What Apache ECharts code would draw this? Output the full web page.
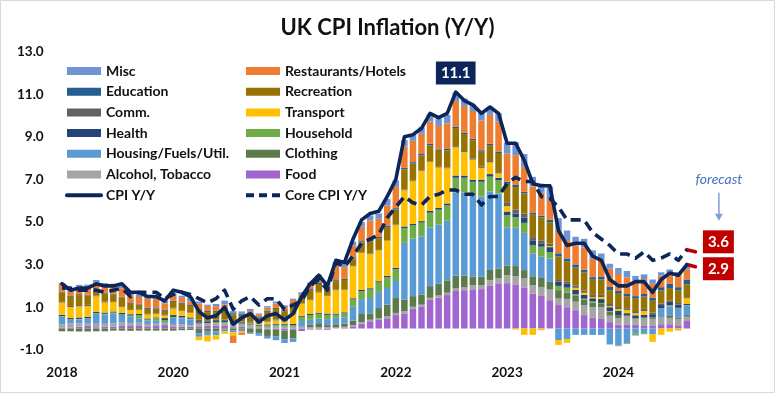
<!DOCTYPE html>
<html><head><meta charset="utf-8">
<script src="https://cdn.jsdelivr.net/npm/echarts@6/dist/echarts.min.js"></script>
<style>html,body{margin:0;padding:0;background:#fff}#c{width:775px;height:393px}</style>
</head><body><div id="c"></div>
<script>
const categories = ["Dec-18","Jan-19","Feb-19","Mar-19","Apr-19","May-19","Jun-19","Jul-19","Aug-19","Sep-19","Oct-19","Nov-19","Dec-19",
"Jan-20","Feb-20","Mar-20","Apr-20","May-20","Jun-20","Jul-20","Aug-20","Sep-20","Oct-20","Nov-20","Dec-20",
"Jan-21","Feb-21","Mar-21","Apr-21","May-21","Jun-21","Jul-21","Aug-21","Sep-21","Oct-21","Nov-21","Dec-21",
"Jan-22","Feb-22","Mar-22","Apr-22","May-22","Jun-22","Jul-22","Aug-22","Sep-22","Oct-22","Nov-22","Dec-22",
"Jan-23","Feb-23","Mar-23","Apr-23","May-23","Jun-23","Jul-23","Aug-23","Sep-23","Oct-23","Nov-23","Dec-23",
"Jan-24","Feb-24","Mar-24","Apr-24","May-24","Jun-24","Jul-24","Aug-24","Sep-24","Oct-24","Nov-24","Dec-24",
"Jan-25","Feb-25"];
const tickLabels = ["2018","2020","2021","2022","2023","2024"];
const tickEvery = 13;

const food = [0.03,0.05,0.09,0.12,0.06,0.09,0.09,0.12,0.12,0.15,0.10,0.15,0.16,
 0.10,0.08,0.09,0.10,0.12,0.13,0.12,0.06,0.08,0.04,0.00,-0.05,
 -0.06,-0.10,-0.05,-0.12,-0.05,-0.05,-0.06,0.00,0.03,0.10,0.23,0.34,
 0.40,0.48,0.63,0.71,0.92,1.02,1.34,1.45,1.57,1.76,1.80,1.84,
 1.85,2.00,2.12,2.13,2.07,1.93,1.64,1.53,1.33,1.10,1.00,0.86,
 0.63,0.50,0.45,0.30,0.18,0.17,0.17,0.12,0.15,0.20,0.20,0.15,
 0.35];
const alcohol = [0.17,0.19,0.15,0.14,0.16,0.13,0.16,0.16,0.14,0.12,0.11,0.08,0.09,
 0.11,0.12,0.06,0.10,0.10,0.12,0.12,0.10,0.10,0.10,0.08,0.08,
 0.10,0.08,0.08,0.08,0.07,0.05,0.06,0.05,0.05,0.05,0.06,0.07,
 0.08,0.09,0.10,0.10,0.10,0.10,0.10,0.10,0.11,0.12,0.13,0.20,
 0.19,0.28,0.23,0.38,0.39,0.42,0.39,0.42,0.50,0.31,0.39,0.40,
 0.47,0.50,0.55,0.30,0.30,0.40,0.30,0.35,0.30,0.30,0.30,0.30,
 0.20];
const clothing = [-0.13,-0.13,-0.14,-0.14,-0.13,-0.13,-0.10,-0.10,-0.11,-0.10,-0.10,-0.10,-0.10,
 -0.10,-0.08,-0.07,-0.22,-0.15,-0.14,-0.05,-0.10,-0.06,-0.20,-0.22,-0.30,
 -0.32,-0.40,-0.42,0.02,0.12,0.20,0.10,0.15,0.15,0.22,0.39,0.30,
 0.48,0.55,0.70,0.55,0.50,0.48,0.55,0.55,0.58,0.60,0.55,0.39,
 0.39,0.47,0.47,0.44,0.47,0.39,0.39,0.42,0.36,0.39,0.30,0.30,
 0.25,0.22,0.15,0.20,0.15,0.05,0.00,0.05,0.05,0.02,0.12,0.05,
 0.08];
const housing = [0.36,0.17,0.19,0.19,0.47,0.44,0.44,0.36,0.31,0.19,0.16,0.13,0.05,
 0.30,0.28,0.28,-0.17,-0.18,-0.18,-0.08,-0.08,-0.08,-0.05,-0.12,-0.12,
 -0.17,-0.18,-0.16,0.25,0.22,0.22,0.28,0.30,0.30,0.65,0.70,0.72,
 0.75,0.78,0.80,2.66,2.70,2.72,2.75,2.78,2.80,3.90,3.90,3.83,
 3.76,3.68,3.52,1.80,1.80,1.75,1.10,1.00,1.10,-0.54,-0.50,-0.30,
 -0.30,-0.30,-0.30,-0.75,-0.80,-0.70,-0.25,-0.22,-0.28,0.40,0.42,0.42,
 0.44];
const household = [0.02,0.02,0.02,0.03,0.03,0.03,0.06,0.02,0.04,0.17,0.05,0.12,0.10,
 0.03,0.04,0.03,0.04,0.04,0.05,0.06,0.04,0.05,0.05,0.05,0.06,
 0.08,0.10,0.08,0.20,0.22,0.22,0.20,0.15,0.18,0.35,0.38,0.40,
 0.45,0.50,0.55,0.70,0.62,0.65,0.70,0.70,0.72,0.70,0.70,0.63,
 0.70,0.70,0.62,0.58,0.50,0.47,0.39,0.47,0.30,0.20,0.23,0.05,
 0.05,0.05,0.05,0.02,-0.03,-0.03,-0.08,-0.05,0.02,0.03,0.05,0.05,
 0.03];
const health = [0.06,0.06,0.07,0.07,0.07,0.06,0.05,0.07,0.06,0.05,0.05,0.04,0.09,
 0.09,0.08,0.06,0.05,0.05,0.05,0.05,0.05,0.05,0.05,0.05,0.05,
 0.05,0.05,0.05,0.05,0.05,0.05,0.06,0.05,0.05,0.05,0.05,0.06,
 0.06,0.07,0.07,0.07,0.07,0.07,0.08,0.08,0.09,0.10,0.10,0.10,
 0.10,0.12,0.12,0.16,0.17,0.25,0.23,0.16,0.23,0.20,0.20,0.20,
 0.18,0.15,0.18,0.18,0.20,0.10,0.15,0.12,0.15,0.15,0.15,0.15,
 0.05];
const transport = [0.58,0.52,0.52,0.50,0.72,0.47,0.44,0.27,0.20,0.19,0.19,0.16,0.12,
 0.31,0.22,0.22,-0.16,-0.28,-0.20,-0.12,-0.15,-0.06,0.03,0.05,0.12,
 0.15,0.10,0.45,0.56,0.65,0.95,0.82,1.10,1.05,1.50,1.75,1.60,
 1.45,1.65,2.00,1.70,2.00,2.35,2.30,1.90,1.65,1.33,1.10,0.94,
 0.55,0.55,0.20,0.25,-0.05,-0.30,-0.30,-0.08,0.05,-0.23,-0.17,0.10,
 0.10,0.05,0.10,0.05,0.08,0.15,0.10,0.18,-0.35,-0.30,-0.15,-0.10,
 0.27];
const comm = [0.03,0.05,0.06,0.06,0.04,0.04,0.04,0.04,0.04,0.03,0.03,0.03,0.03,
 0.03,0.03,0.03,0.12,0.08,0.07,0.07,0.06,0.06,0.04,0.03,0.03,
 0.04,0.03,0.03,0.02,0.02,0.03,0.02,0.02,0.02,0.02,0.03,0.03,
 0.02,0.02,0.03,0.03,0.03,0.03,0.03,0.03,0.04,0.05,0.05,0.06,
 0.06,0.06,0.06,0.19,0.19,0.19,0.15,0.12,0.12,0.08,0.08,0.10,
 0.10,0.10,0.10,0.10,0.10,0.08,0.10,0.10,0.08,0.08,0.08,0.08,
 0.05];
const recreation = [0.44,0.43,0.47,0.44,0.22,0.39,0.31,0.42,0.24,0.23,0.23,0.23,0.19,
 0.28,0.31,0.28,0.45,0.38,0.36,0.50,0.35,0.30,0.35,0.25,0.44,
 0.50,0.45,0.45,0.22,0.45,0.37,0.28,0.40,0.45,0.30,0.45,0.58,
 0.55,0.62,0.70,0.95,0.80,0.70,0.75,0.75,0.80,0.85,0.80,0.85,
 0.70,0.75,0.90,0.86,1.05,0.94,1.05,1.10,1.00,1.10,0.94,0.85,
 0.85,0.72,0.72,0.65,0.62,0.55,0.58,0.58,0.55,0.60,0.58,0.58,
 0.60];
const education = [0.04,0.04,0.04,0.04,0.04,0.04,0.04,0.04,0.04,0.04,0.05,0.05,0.05,
 0.05,0.05,0.05,0.05,0.05,0.05,0.06,0.06,0.06,0.06,0.06,0.06,
 0.05,0.05,0.05,0.05,0.05,0.05,0.05,0.05,0.05,0.06,0.06,0.06,
 0.06,0.07,0.07,0.07,0.07,0.07,0.07,0.07,0.07,0.07,0.07,0.07,
 0.07,0.07,0.07,0.10,0.10,0.08,0.08,0.08,0.12,0.15,0.15,0.15,
 0.13,0.12,0.12,0.15,0.13,0.12,0.12,0.12,0.15,0.16,0.20,0.16,
 0.23];
const restaurants = [0.36,0.19,0.36,0.38,0.36,0.34,0.38,0.39,0.37,0.31,0.42,0.39,0.30,
 0.23,0.23,0.16,0.26,0.24,0.22,0.15,-0.35,-0.10,0.10,0.10,0.14,
 0.20,0.15,0.15,0.15,0.20,0.20,0.12,0.70,0.55,0.60,0.68,0.90,
 0.85,0.95,1.00,1.00,1.00,0.95,1.05,1.10,1.20,1.20,1.25,1.30,
 1.40,1.35,1.40,1.33,1.40,1.17,1.25,1.10,0.94,1.10,0.86,0.90,
 1.05,0.86,0.80,0.86,0.80,0.78,0.75,0.70,0.65,0.55,0.50,0.55,
 0.47];
const misc = [0.05,0.08,0.08,0.09,0.11,0.10,0.09,0.12,0.10,0.12,0.16,0.14,0.12,
 0.12,0.10,0.19,0.10,0.06,0.10,0.18,0.10,0.10,0.10,0.04,0.07,
 0.10,0.08,0.06,0.10,0.10,0.18,0.12,0.15,0.15,0.18,0.22,0.25,
 0.25,0.30,0.30,0.30,0.30,0.30,0.35,0.35,0.40,0.40,0.35,0.30,
 0.35,0.35,0.40,0.50,0.60,0.60,0.45,0.40,0.62,0.55,0.45,0.40,
 0.40,0.40,0.30,0.23,0.28,0.30,0.20,0.22,0.20,0.15,0.17,0.16,
 0.15];
const cpi = [2.1,1.8,1.9,1.9,2.1,2.0,2.0,2.1,1.7,1.7,1.5,1.5,1.3,
 1.8,1.7,1.5,0.8,0.5,0.6,1.0,0.2,0.5,0.7,0.3,0.6,
 0.7,0.4,0.7,1.5,2.1,2.5,2.0,3.2,3.1,4.2,5.1,5.4,
 5.5,6.2,7.0,9.0,9.1,9.4,10.1,9.9,10.1,11.1,10.7,10.5,
 10.1,10.4,10.1,8.7,8.7,7.9,6.8,6.7,6.7,4.6,3.9,4.0,
 4.0,3.4,3.2,2.3,2.0,2.0,2.2,2.2,1.7,2.3,2.6,2.5,
 3.0,2.9];
const core = [1.9,1.9,1.8,1.8,1.8,1.7,1.8,1.9,1.5,1.7,1.7,1.7,1.4,
 1.6,1.7,1.6,1.4,1.2,1.4,1.8,0.9,1.3,1.5,1.1,1.4,
 1.4,0.9,1.1,1.3,2.0,2.3,1.8,3.1,2.9,3.4,4.0,4.2,
 4.4,5.2,5.7,6.2,5.9,5.8,6.2,6.3,6.5,6.5,6.3,6.3,
 5.8,6.2,6.2,6.8,7.1,6.9,6.9,6.2,6.1,5.7,5.1,5.1,
 5.1,4.5,4.2,3.9,3.5,3.5,3.3,3.6,3.2,3.3,3.5,3.2,
 3.7,3.6];

const FONT = 'Lato';
const NAVY = '#0D2659';
const RED = '#C00000';
const lastActual = food.length - 1;
const fcIdx = cpi.length - 1;

const stackDefs = [
  ['Food', food, '#A165D0'],
  ['Alcohol, Tobacco', alcohol, '#A5A5A5'],
  ['Clothing', clothing, '#5C7A4B'],
  ['Housing/Fuels/Util.', housing, '#5B9BD5'],
  ['Household', household, '#70AD47'],
  ['Health', health, '#264478'],
  ['Transport', transport, '#FFC000'],
  ['Comm.', comm, '#636363'],
  ['Recreation', recreation, '#997300'],
  ['Education', education, '#255E91'],
  ['Restaurants/Hotels', restaurants, '#ED7D31'],
  ['Misc', misc, '#6F93D3']
];

const series = stackDefs.map(([name, data, color]) => ({
  type: 'bar', name, data, stack: 'contrib', barCategoryGap: '24%',
  itemStyle: { color }, emphasis: { disabled: true }, z: 2
}));

const peakIdx = cpi.indexOf(Math.max(...cpi));
const boxLabel = (bg, pos, offset) => ({
  show: true, position: pos, distance: 7, offset,
  formatter: p => p.value.toFixed(1),
  color: '#fff', fontFamily: FONT, fontWeight: 'bold', fontSize: 15,
  backgroundColor: bg, padding: [3, 5, 2, 5], lineHeight: 18
});

series.push({
  type: 'line', name: 'CPI Y/Y', symbol: 'none', z: 5,
  data: cpi.map((v, i) => i <= lastActual ? v : null),
  lineStyle: { color: NAVY, width: 3.6, join: 'round', cap: 'round' },
  itemStyle: { color: NAVY },
  emphasis: { disabled: true },
  markPoint: {
    symbol: 'circle', symbolSize: 1, itemStyle: { color: 'rgba(0,0,0,0)' },
    label: boxLabel(NAVY, 'top', [0, 0]),
    data: [{ coord: [peakIdx, cpi[peakIdx]], value: cpi[peakIdx] }]
  }
});
series.push({
  type: 'line', name: 'Core CPI Y/Y', symbol: 'none', z: 5,
  data: core.map((v, i) => i <= lastActual ? v : null),
  lineStyle: { color: NAVY, width: 3.6, type: [10, 6], join: 'round' },
  itemStyle: { color: NAVY },
  emphasis: { disabled: true }
});
series.push({
  type: 'line', name: 'CPI fc', symbol: 'none', z: 4,
  data: cpi.map((v, i) => i >= lastActual ? v : null),
  lineStyle: { color: RED, width: 3.6, cap: 'round' },
  emphasis: { disabled: true },
  markPoint: {
    symbol: 'circle', symbolSize: 1, itemStyle: { color: 'rgba(0,0,0,0)' },
    label: boxLabel(RED, 'right', [0, 2]),
    data: [{ coord: [fcIdx, cpi[fcIdx]], value: cpi[fcIdx] }]
  }
});
series.push({
  type: 'line', name: 'Core fc', symbol: 'none', z: 4,
  data: core.map((v, i) => i >= lastActual ? v : null),
  lineStyle: { color: RED, width: 3.6, cap: 'round' },
  emphasis: { disabled: true },
  markPoint: {
    symbol: 'circle', symbolSize: 1, itemStyle: { color: 'rgba(0,0,0,0)' },
    label: boxLabel(RED, 'right', [0, -10]),
    data: [{ coord: [fcIdx, core[fcIdx]], value: core[fcIdx] }]
  }
});

const legendText = { fontFamily: FONT, fontWeight: 'bold', fontSize: 14, color: '#111', lineHeight: 16 };
const legendBase = {
  orient: 'vertical', top: 58, itemWidth: 34, itemHeight: 8, itemGap: 4.7,
  textStyle: legendText, selectedMode: false
};
const rectItem = name => ({ name, icon: 'rect' });
const lineItem = (name, dash) => ({ name,
  itemStyle: { color: 'rgba(0,0,0,0)', borderWidth: 0, opacity: 0 },
  lineStyle: { width: 4, color: NAVY, type: dash ? [8, 5] : 'solid' } });

const option = {
  animation: false,
  title: {
    text: 'UK CPI Inflation (Y/Y)', left: 'center', top: 12,
    textStyle: { fontFamily: FONT, fontWeight: 'bold', fontSize: 22, color: '#111' }
  },
  legend: [
    Object.assign({}, legendBase, { left: 60,
      data: ['Misc', 'Education', 'Comm.', 'Health', 'Housing/Fuels/Util.', 'Alcohol, Tobacco'].map(rectItem)
            .concat([lineItem('CPI Y/Y', false)]) }),
    Object.assign({}, legendBase, { left: 239,
      data: ['Restaurants/Hotels', 'Recreation', 'Transport', 'Household', 'Clothing', 'Food'].map(rectItem)
            .concat([lineItem('Core CPI Y/Y', true)]) })
  ],
  grid: { left: 57.7, right: 75.3, top: 51.6, bottom: 43.2, containLabel: false },
  xAxis: {
    type: 'category', data: categories, boundaryGap: true,
    axisLine: { show: false, onZero: false }, axisTick: { show: false },
    axisLabel: {
      interval: (idx) => idx % tickEvery === 0,
      formatter: (v, idx) => tickLabels[Math.round(idx / tickEvery)] || '',
      fontFamily: FONT, fontWeight: 'bold', fontSize: 13.5, color: '#111', margin: 16
    },
    splitLine: { show: false }
  },
  yAxis: {
    type: 'value', min: -1, max: 13, interval: 2,
    axisLine: { show: false }, axisTick: { show: false }, splitLine: { show: false },
    axisLabel: {
      formatter: v => v.toFixed(1), fontFamily: FONT, fontWeight: 'bold', fontSize: 13.5,
      color: '#111', margin: 14
    }
  },
  series
};

const chart = echarts.init(document.getElementById('c'), null, { renderer: 'canvas' });
chart.setOption(option);

const p = chart.convertToPixel({ xAxisIndex: 0, yAxisIndex: 0 }, [fcIdx, core[fcIdx]]);
const ax = p[0] + 23.5;
chart.setOption({
  graphic: [
    { type: 'rect', shape: { x: 0.5, y: 0.5, width: 774, height: 392 },
      style: { fill: 'none', stroke: '#D9D9D9', lineWidth: 1 }, silent: true },
    { type: 'text', x: ax, y: p[1] - 72,
      style: { text: 'forecast', fill: '#4472C4', font: 'italic 14px ' + FONT,
               textAlign: 'center', textVerticalAlign: 'middle' } },
    { type: 'line', shape: { x1: ax, y1: p[1] - 59, x2: ax, y2: p[1] - 37 },
      style: { stroke: '#7F9FD8', lineWidth: 1.5 } },
    { type: 'polygon', shape: { points: [[ax - 4, p[1] - 38], [ax + 4, p[1] - 38], [ax, p[1] - 31]] },
      style: { fill: '#7F9FD8' } }
  ]
});
</script>
</body></html>
